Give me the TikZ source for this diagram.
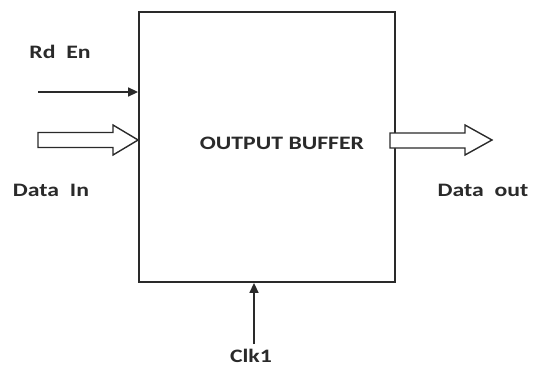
\documentclass[tikz,border=0pt]{standalone}
\usepackage{fontspec}
\setmainfont{Carlito}[BoldFont={* Bold}, BoldFeatures={FakeStretch=1.25}]
\usetikzlibrary{arrows.meta}
\definecolor{ink}{HTML}{2A2A2A}
\tikzset{
  lbl/.style={font=\fontsize{19}{22}\selectfont\bfseries, text=ink, inner sep=0pt},
  wire/.style={draw=ink, line width=1.5pt, -{Triangle[length=10pt,width=9pt]}},
  hollow/.style={draw=ink, line width=1.4pt, fill=white, line join=miter},
}
\begin{document}
\begin{tikzpicture}[x=1pt,y=-1pt]
\useasboundingbox (0,0) rectangle (536,367);
% main box
\node (buf) [draw=ink, line width=1.8pt, minimum width=256pt, minimum height=270pt, inner sep=0pt] at (267,147) {};
\node (buflbl) [lbl] at (282,143.5) {OUTPUT BUFFER};
% Rd En
\coordinate (rdin) at (38,92);
\coordinate (rdtip) at (buf.west |- rdin);
\draw[wire] (rdin) -- (rdtip);
\node (rden) [lbl] at (60,52) {Rd\ \ En};
% Data In hollow arrow
\coordinate (dintip) at (buf.west |- 0,140);
\draw[hollow] (38,132.5) -- (113,132.5) -- (113,125) -- (dintip) -- (113,155) -- (113,147.5) -- (38,147.5) -- cycle;
\node (datain) [lbl] at (51,190) {Data\ \ In};
% Data out hollow arrow
\coordinate (douttip) at (492,140);
\draw[hollow] (390,133) -- (465,133) -- (465,125) -- (douttip) -- (465,155) -- (465,148) -- (390,148) -- cycle;
\node (dataout) [lbl] at (483,190) {Data\ \ out};
% Clk1
\coordinate (clkin) at (254,344);
\coordinate (clktip) at (clkin |- buf.south);
\draw[wire] (clkin) -- (clktip);
\node (clk) [lbl] at (251,356) {Clk1};
\end{tikzpicture}
\end{document}
